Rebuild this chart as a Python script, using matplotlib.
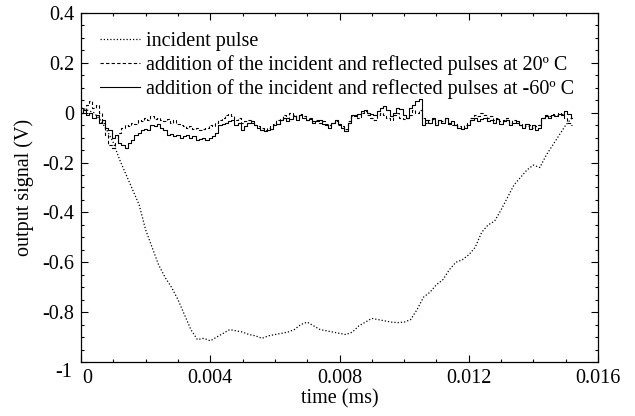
import numpy as np
import matplotlib
matplotlib.use("Agg")
import matplotlib.pyplot as plt
import matplotlib.transforms as mtransforms
from matplotlib.ticker import MultipleLocator

plt.rcParams["font.family"] = ["Liberation Serif", "DejaVu Serif"]

dt_noisy = 0.0001
dt_incident = 0.0002

incident = [
    0.02, 0.01, 0.0, -0.03, -0.07, -0.12, -0.19, -0.25, -0.31, -0.37,
    -0.47, -0.54, -0.61, -0.66, -0.70, -0.75, -0.81, -0.87, -0.91, -0.905,
    -0.915, -0.90, -0.885, -0.87, -0.875, -0.88, -0.89, -0.895, -0.905, -0.895,
    -0.89, -0.885, -0.88, -0.87, -0.85, -0.84, -0.855, -0.87, -0.875, -0.88,
    -0.885, -0.89, -0.88, -0.855, -0.84, -0.825, -0.83, -0.835, -0.84, -0.842,
    -0.84, -0.83, -0.79, -0.74, -0.72, -0.69, -0.67, -0.63, -0.60, -0.59,
    -0.57, -0.54, -0.48, -0.45, -0.435, -0.39, -0.34, -0.29, -0.26, -0.23,
    -0.21, -0.22, -0.17, -0.13, -0.09, -0.05, -0.02,
]

pulse_20 = [
    0.02, 0.01, 0.03, 0.045, 0.02, 0.03, 0.0, -0.04, -0.09, -0.13,
    -0.14, -0.12, -0.08, -0.06, -0.05, -0.055, -0.04, -0.045, -0.03, -0.035,
    -0.02, -0.03, -0.015, -0.025, -0.02, -0.03, -0.035, -0.025, -0.04, -0.03,
    -0.045, -0.05, -0.055, -0.06, -0.055, -0.065, -0.06, -0.07, -0.065, -0.06,
    -0.05, -0.055, -0.04, -0.03, -0.02, -0.01, -0.005, -0.015, -0.03, -0.02,
    -0.04, -0.035, -0.03, -0.04, -0.05, -0.055, -0.06, -0.07, -0.06, -0.055,
    -0.045, -0.03, -0.025, -0.01, -0.02, 0.0, -0.01, -0.02, -0.005, -0.015,
    -0.03, -0.02, -0.035, -0.03, -0.04, -0.035, -0.045, -0.05, -0.04, -0.035,
    -0.05, -0.055, -0.065, -0.035, -0.015, -0.01, -0.02, 0.0, 0.005, -0.01,
    -0.02, -0.03, -0.01, 0.0, -0.01, -0.02, -0.03, -0.01, 0.0, -0.02,
    -0.025, -0.02, -0.01, 0.01, 0.0, 0.01, -0.02, -0.04, -0.03, -0.025,
    -0.04, -0.03, -0.035, -0.02, -0.04, -0.05, -0.045, -0.055, -0.06, -0.05,
    -0.04, -0.02, -0.01, -0.015, 0.0, -0.01, -0.02, -0.015, -0.03, -0.02,
    -0.035, -0.03, -0.02, -0.04, -0.03, -0.04, -0.05, -0.045, -0.055, -0.05,
    -0.06, -0.055, -0.05, -0.02, -0.01, -0.015, -0.005, -0.01, 0.0, -0.005,
    -0.02, -0.04, -0.05,
]

pulse_m60 = [
    0.0, 0.01, -0.01, 0.0, -0.02, -0.01, -0.04, -0.03, -0.06, -0.07,
    -0.10, -0.09, -0.12, -0.13, -0.14, -0.12, -0.11, -0.09, -0.08, -0.07,
    -0.065, -0.07, -0.05, -0.055, -0.045, -0.06, -0.07, -0.09, -0.085, -0.095,
    -0.09, -0.10, -0.095, -0.09, -0.10, -0.095, -0.11, -0.105, -0.10, -0.11,
    -0.10, -0.095, -0.08, -0.05, -0.045, -0.04, -0.035, -0.03, -0.05, -0.04,
    -0.07, -0.055, -0.04, -0.035, -0.05, -0.06, -0.07, -0.075, -0.07, -0.065,
    -0.05, -0.045, -0.03, -0.02, -0.035, -0.025, -0.015, -0.03, -0.01, -0.02,
    -0.03, -0.025, -0.04, -0.035, -0.03, -0.045, -0.05, -0.06, -0.04, -0.03,
    -0.045, -0.06, -0.075, -0.04, -0.01, -0.015, -0.005, 0.005, 0.01, 0.0,
    -0.005, -0.01, 0.005, 0.02, 0.025, 0.01, -0.015, 0.0, 0.02, 0.015,
    -0.01, -0.02, 0.02, 0.03, 0.045, 0.055, -0.05, -0.03, -0.04, -0.02,
    -0.05, -0.03, -0.04, -0.02, -0.045, -0.035, -0.05, -0.06, -0.065, -0.06,
    -0.05, -0.03, -0.02, -0.035, -0.025, -0.02, -0.035, -0.03, -0.04, -0.025,
    -0.045, -0.035, -0.03, -0.05, -0.04, -0.035, -0.05, -0.06, -0.045, -0.065,
    -0.05, -0.07, -0.06, -0.02, -0.015, -0.02, -0.01, -0.015, -0.005, -0.01,
    0.005, -0.005, -0.02,
]

x_ticks = [0, 0.004, 0.008, 0.012, 0.016]
x_labels = ["0", "0.004", "0.008", "0.012", "0.016"]
y_ticks = [-1, -0.8, -0.6, -0.4, -0.2, 0, 0.2, 0.4]
y_labels = ["-1", "-0.8", "-0.6", "-0.4", "-0.2", "0", "0.2", "0.4"]

t_inc = np.arange(len(incident)) * dt_incident
t_20 = np.arange(len(pulse_20)) * dt_noisy
t_m60 = np.arange(len(pulse_m60)) * dt_noisy

fs = 14.5
fig = plt.figure(figsize=(6.35, 4.16), dpi=100)
ax = fig.add_axes([0.1276, 0.1298, 0.8141, 0.839])

ax.plot(t_inc, incident, color="black", lw=0.9, linestyle=(0, (1, 1.6)),
        label="incident pulse")
ax.plot(t_20, pulse_20, color="black", lw=0.8, linestyle=(0, (3, 2)),
        drawstyle="steps-mid",
        label="addition of the incident and reflected pulses at 20º C")
ax.plot(t_m60, pulse_m60, color="black", lw=0.8, drawstyle="steps-mid",
        label="addition of the incident and reflected pulses at -60º C")

ax.set_xlim(0, 0.016)
ax.set_ylim(-1, 0.4)
ax.set_xticks(x_ticks)
ax.set_xticklabels(x_labels)
ax.set_yticks(y_ticks)
ax.set_yticklabels(y_labels)
ax.xaxis.set_minor_locator(MultipleLocator(0.001))
ax.yaxis.set_minor_locator(MultipleLocator(0.05))
ax.tick_params(which="both", direction="in", top=True, right=True,
               labelsize=fs, width=0.8)
ax.tick_params(which="major", length=5, pad=5)
ax.tick_params(which="minor", length=2.5)
for s in ax.spines.values():
    s.set_linewidth(0.9)

# the corner labels sit a little apart in the original
xl0 = ax.get_xticklabels()[0]
xl0.set_transform(xl0.get_transform() +
                  mtransforms.ScaledTranslation(6 / 100, 0, fig.dpi_scale_trans))
yl0 = ax.get_yticklabels()[0]
yl0.set_transform(yl0.get_transform() +
                  mtransforms.ScaledTranslation(-2 / 100, -8 / 100, fig.dpi_scale_trans))

ax.set_xlabel("time (ms)", fontsize=fs, labelpad=1)
ax.set_ylabel("output signal (V)", fontsize=fs, labelpad=6)

ax.legend(loc="upper left", frameon=False, fontsize=fs, handlelength=2.0,
          handletextpad=0.3, labelspacing=0.2, borderaxespad=0.0,
          borderpad=0.0, bbox_to_anchor=(0.037, 0.945))

fig.savefig("out.png", dpi=100)
